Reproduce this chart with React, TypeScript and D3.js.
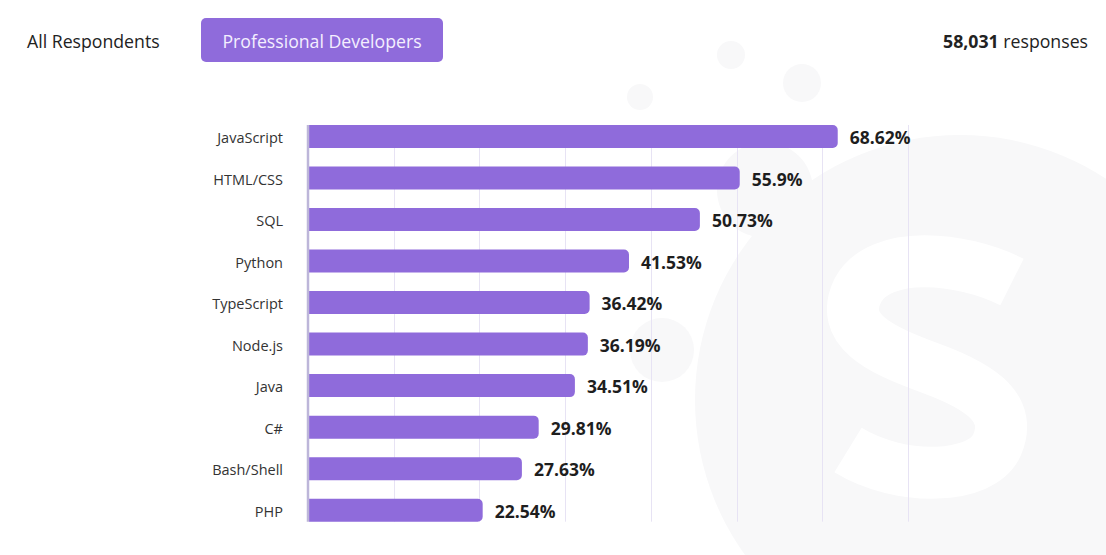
import React from 'react';
import * as d3 from 'd3';

const categories = ['JavaScript', 'HTML/CSS', 'SQL', 'Python', 'TypeScript', 'Node.js', 'Java', 'C#', 'Bash/Shell', 'PHP'];
const values = [68.62, 55.9, 50.73, 41.53, 36.42, 36.19, 34.51, 29.81, 27.63, 22.54];
const gridTicks = [1, 2, 3, 4, 5, 6, 7];
const tabs = ['All Respondents', 'Professional Developers'];
const responseCount = '58,031';
const responseWord = 'responses';

const W = 1106;
const H = 555;
const FONT = '"Open Sans", "DejaVu Sans", sans-serif';
const PURPLE = '#8f6bdb';
const WM = '#f8f8f9';

function barPath(x0: number, y0: number, x1: number, h: number, r: number) {
  const rr = Math.min(r, (x1 - x0) / 2, h / 2);
  return `M${x0},${y0}H${x1 - rr}A${rr},${rr} 0 0 1 ${x1},${y0 + rr}V${y0 + h - rr}A${rr},${rr} 0 0 1 ${x1 - rr},${y0 + h}H${x0}Z`;
}

export default function App() {
  const y = d3.scaleBand<string>()
    .domain(categories)
    .range([115.74, 530.94])
    .paddingInner(0.446)
    .paddingOuter(0.223);
  const x = d3.scaleLinear().domain([0, 78]).range([309, 910]);
  const grid = d3.scaleLinear().domain([0, 7]).range([308, 908]);
  const bw = y.bandwidth();
  const top = y(categories[0]) as number;
  const bottom = (y(categories[categories.length - 1]) as number) + bw;

  return (
    <div style={{ position: 'absolute', left: 0, top: 0 }}>
      <svg width={W} height={H} style={{ display: 'block', background: '#fff' }} fontFamily={FONT}>
        {/* faint watermark */}
        <g fill={WM}>
          <circle cx={731} cy={55} r={14} />
          <circle cx={802} cy={83} r={19} />
          <circle cx={640} cy={97} r={13} />
          <circle cx={765} cy={190} r={48} />
          <circle cx={662} cy={350} r={32} />
          <circle cx={960} cy={400} r={265} />
        </g>
        <path d="M1012,282 C960,256 880,250 858,290 C838,330 880,350 930,368 C985,388 1012,410 997,445 C982,480 900,482 848,450"
          fill="none" stroke="#ffffff" strokeWidth={52} />

        {/* header */}
        <text x={27} y={48} fontSize={17.7} fill="#222">{tabs[0]}</text>
        <rect x={201} y={18} width={242} height={44} rx={5} fill={PURPLE} />
        <text x={322} y={48} fontSize={17.7} fill="#f4efff" textAnchor="middle">{tabs[1]}</text>
        <text x={1088} y={48} fontSize={17.7} fill="#222" textAnchor="end">
          <tspan fontWeight={700}>{responseCount}</tspan>
          <tspan> {responseWord}</tspan>
        </text>

        {/* gridlines */}
        <g stroke="#e7e3f4" strokeWidth={1}>
          {gridTicks.map(t => (
            <line key={t} x1={Math.round(grid(t)) + 0.5} x2={Math.round(grid(t)) + 0.5} y1={top} y2={bottom} />
          ))}
        </g>

        {/* bars */}
        {categories.map((c, i) => {
          const y0 = y(c) as number;
          const x1 = x(values[i]);
          return (
            <g key={c}>
              <path d={barPath(x(0), y0, x1, bw, 5)} fill={PURPLE} />
              <text x={283} y={y0 + bw / 2 + 6.5} fontSize={14.5} fill="#333" textAnchor="end">{c}</text>
              <text x={x1 + 12} y={y0 + bw / 2 + 7.8} fontSize={17.5} fontWeight={700} fill="#1e1e1e">{values[i] + '%'}</text>
            </g>
          );
        })}

        {/* axis line */}
        <line x1={308} x2={308} y1={top} y2={bottom} stroke="#bdb6d9" strokeWidth={2.5} />
      </svg>
    </div>
  );
}
